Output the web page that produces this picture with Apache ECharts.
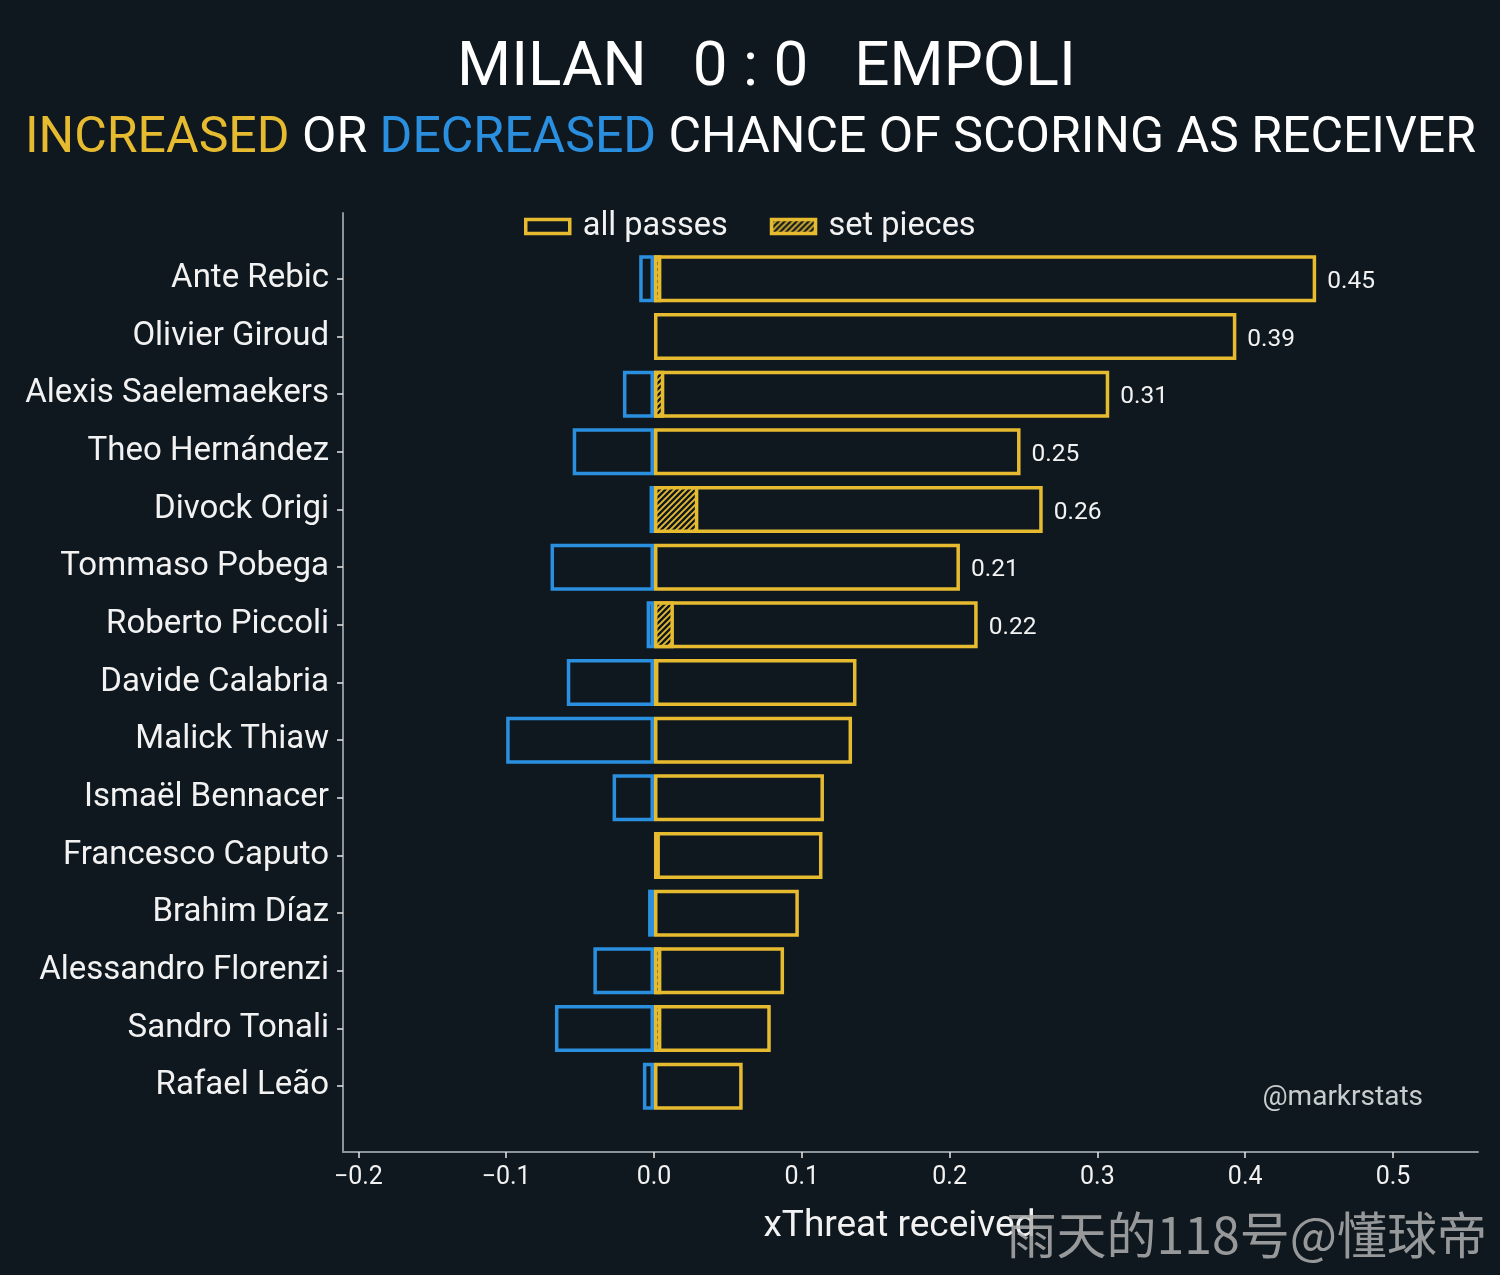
<!DOCTYPE html>
<html>
<head>
<meta charset="utf-8">
<script src="https://cdn.jsdelivr.net/npm/echarts@6/dist/echarts.min.js"></script>
<style>
html,body{margin:0;padding:0;background:#10181f;}
#chart{width:1500px;height:1275px;}
</style>
</head>
<body>
<div id="chart"></div>
<script>
// ---- data ----
const players = ['Ante Rebic','Olivier Giroud','Alexis Saelemaekers','Theo Hernández','Divock Origi','Tommaso Pobega','Roberto Piccoli','Davide Calabria','Malick Thiaw','Ismaël Bennacer','Francesco Caputo','Brahim Díaz','Alessandro Florenzi','Sandro Tonali','Rafael Leão'];
const increased = [0.448,0.394,0.308,0.248,0.263,0.207,0.219,0.137,0.134,0.115,0.114,0.098,0.088,0.079,0.060];
const decreased = [-0.010,0,-0.021,-0.055,-0.003,-0.070,-0.005,-0.059,-0.100,-0.028,0,-0.004,-0.041,-0.067,-0.0075];
const setPieces = [0.005,0,0.007,0,0.030,0,0.0135,0.003,0,0,0.004,0,0.005,0.005,0];
const xTicks = [-0.2,-0.1,0.0,0.1,0.2,0.3,0.4,0.5];
const labelThreshold = 0.2;

// ---- style ----
const BG = '#10181f';
const GOLD = '#e6bb30';
const BLUE = '#2b8fe0';
const AXIS = '#8a9499';
const TXT = '#f2f2f2';
const XMIN = -0.2104, XMAX = 0.5575;
const BAR_W = 47;

function makeHatch(){
  const s = 6;
  const c = document.createElement('canvas');
  c.width = s; c.height = s;
  const ctx = c.getContext('2d');
  ctx.fillStyle = BG; ctx.fillRect(0,0,s,s);
  ctx.strokeStyle = GOLD; ctx.lineWidth = 1.9;
  ctx.beginPath();
  ctx.moveTo(0,s); ctx.lineTo(s,0);
  ctx.moveTo(-1,1); ctx.lineTo(1,-1);
  ctx.moveTo(s-1,s+1); ctx.lineTo(s+1,s-1);
  ctx.stroke();
  return c;
}
const nz = arr => arr.map(v => v === 0 ? '-' : v);

const chart = echarts.init(document.getElementById('chart'), null, {renderer:'canvas'});
const option = {
  backgroundColor: BG,
  animation: false,
  textStyle: {fontFamily: 'Roboto'},
  title: [
    {text: 'MILAN   0 : 0   EMPOLI', left: 452, top: 33,
     textStyle: {color: '#ffffff', fontSize: 62, fontWeight: 'normal', fontFamily: 'Roboto'}},
    {text: '{y|INCREASED} OR {b|DECREASED} CHANCE OF SCORING AS RECEIVER', left: 20, top: 109,
     textStyle: {color: '#ffffff', fontSize: 50, fontWeight: 'normal', fontFamily: 'Roboto',
       rich: {y: {color: GOLD, fontSize: 50, fontFamily: 'Roboto'}, b: {color: BLUE, fontSize: 50, fontFamily: 'Roboto'}}}}
  ],
  legend: {
    data: ['all passes', 'set pieces'],
    left: 519, top: 205,
    itemWidth: 44, itemHeight: 14, itemGap: 42,
    icon: 'rect',
    itemStyle: {borderWidth: 3.5},
    textStyle: {color: TXT, fontSize: 32.5, fontFamily: 'Roboto', padding: [0,0,0,8]}
  },
  grid: [
    {left: 343, right: 22, top: 213, bottom: 123, containLabel: false},
    {left: 343, right: 22, top: 250, height: 865, containLabel: false}
  ],
  xAxis: [
    {type: 'value', gridIndex: 0, min: XMIN, max: XMAX,
     name: 'xThreat received', nameLocation: 'middle', nameGap: 56,
     nameTextStyle: {color: TXT, fontSize: 37, fontFamily: 'Roboto', padding: [0, 22, 0, 0]},
     axisLine: {show: true, onZero: false, lineStyle: {color: AXIS, width: 2}},
     axisTick: {show: true, length: 6, customValues: xTicks, lineStyle: {color: '#e6e6e6', width: 1.5}},
     axisLabel: {show: true, customValues: xTicks, color: TXT, fontSize: 25, margin: 13,
       formatter: v => v.toFixed(1).replace('-', '\u2212')},
     splitLine: {show: false}},
    {type: 'value', gridIndex: 1, min: XMIN, max: XMAX, show: false}
  ],
  yAxis: [
    {type: 'value', gridIndex: 0, min: 0, max: 1,
     axisLine: {show: true, onZero: false, lineStyle: {color: AXIS, width: 2}},
     axisTick: {show: false}, axisLabel: {show: false}, splitLine: {show: false}},
    {type: 'category', gridIndex: 1, data: players, inverse: true,
     axisLine: {show: false, onZero: false},
     axisTick: {show: true, alignWithLabel: true, length: 6, lineStyle: {color: '#e6e6e6', width: 1.5}},
     axisLabel: {color: TXT, fontSize: 33, margin: 14, fontFamily: 'Roboto', padding: [10, 0, 0, 0]},
     splitLine: {show: false}}
  ],
  series: [
    {name: 'decreased', type: 'bar', xAxisIndex: 1, yAxisIndex: 1, data: nz(decreased),
     barWidth: BAR_W, barGap: '-100%',
     itemStyle: {color: 'rgba(0,0,0,0)', borderColor: BLUE, borderWidth: 3.5}},
    {name: 'all passes', type: 'bar', xAxisIndex: 1, yAxisIndex: 1, data: nz(increased),
     barWidth: BAR_W, barGap: '-100%',
     itemStyle: {color: 'rgba(0,0,0,0)', borderColor: GOLD, borderWidth: 3.5},
     label: {show: true, position: 'right', distance: 11, color: TXT, fontSize: 24.5, fontFamily: 'Roboto',
       offset: [0, 3],
       formatter: p => (p.value >= labelThreshold ? p.value.toFixed(2) : '')}},
    {name: 'set pieces', type: 'bar', xAxisIndex: 1, yAxisIndex: 1, data: nz(setPieces),
     barWidth: BAR_W, barGap: '-100%',
     itemStyle: {color: {image: makeHatch(), repeat: 'repeat'}, borderColor: GOLD, borderWidth: 3.5}}
  ],
  graphic: [
    {type: 'text', right: 77, top: 1084,
     style: {text: '@markrstats', fill: '#c9cccd', fontSize: 28, fontFamily: 'Roboto'}},
    {type: 'text', right: 13, top: 1210, z: 100,
     style: {text: '雨天的118号@懂球帝', fill: 'rgba(175,175,175,0.85)', fontSize: 50, fontFamily: 'Noto Sans CJK SC'}}
  ]
};
chart.setOption(option);
</script>
</body>
</html>
